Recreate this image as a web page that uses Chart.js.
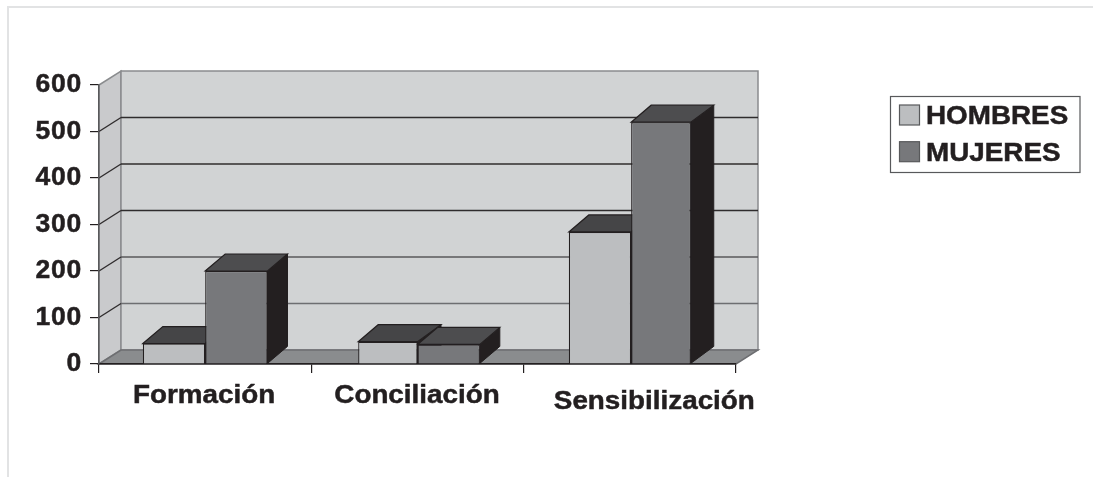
<!DOCTYPE html>
<html>
<head>
<meta charset="utf-8">
<style>
  html, body { margin: 0; padding: 0; background: #fff; overflow: hidden; }
  #frame { position: absolute; left: 7px; top: 6px; right: 0; bottom: 0; border-left: 2px solid #e2e3e4; border-top: 2px solid #e2e3e4; }
  canvas { position: absolute; left: 0; top: 0; }
</style>
<script src="https://cdn.jsdelivr.net/npm/chart.js@4"></script>
</head>
<body>
<div id="frame"></div>
<canvas id="chart" width="1093" height="477"></canvas>
<script>
const categories = ['Formación', 'Conciliación', 'Sensibilización'];
const hombres = [44, 48, 284];
const mujeres = [200, 42, 520];
const yTicks = [0, 100, 200, 300, 400, 500, 600];
const seriesColors = ['#bcbec0', '#77787b'];

// depth of the fake 3d
const wallDx = 22, wallDy = 14;
const barDx = 20, barDy = 17;
const ink = '#231f20';
const labelFont = 'bold 26.5px "Liberation Sans", Arial, sans-serif';

// a few bars in the original are not quite even: [series, category, left, right, extra depth]
const barTweaks = [[0, 1, 3, 0, 3.5], [0, 2, 1.3, 1.3, 0], [1, 2, 1.3, -1.4, 3]];

function poly(ctx, pts, fill, stroke, lw) {
  ctx.beginPath();
  pts.forEach((p, i) => i ? ctx.lineTo(p[0], p[1]) : ctx.moveTo(p[0], p[1]));
  ctx.closePath();
  if (fill) { ctx.fillStyle = fill; ctx.fill(); }
  if (stroke) { ctx.strokeStyle = stroke; ctx.lineWidth = lw || 1; ctx.stroke(); }
}

// the scanned text is a bit wider and heavier than arial
function wideText(ctx, text, x, y, align) {
  ctx.save();
  ctx.font = labelFont;
  ctx.fillStyle = ink;
  ctx.strokeStyle = ink;
  ctx.lineWidth = 0.5;
  ctx.textBaseline = 'alphabetic';
  ctx.textAlign = align;
  ctx.translate(x, y);
  ctx.scale(1.05, 1);
  ctx.fillText(text, 0, 0);
  ctx.strokeText(text, 0, 0);
  ctx.restore();
}

const walls3d = {
  id: 'walls3d',
  afterDatasetsUpdate(chart) {
    chart.getSortedVisibleDatasetMetas().forEach(meta => {
      meta.data.forEach(bar => { bar.extraDepth = 0; });
    });
    barTweaks.forEach(([d, i, dl, dr, extra]) => {
      const bar = chart.getDatasetMeta(d).data[i];
      const l = bar.x - bar.width / 2 + dl, r = bar.x + bar.width / 2 + dr;
      bar.x = (l + r) / 2;
      bar.width = r - l;
      bar.extraDepth = extra;
    });
  },
  beforeDraw(chart) {
    const { ctx, chartArea: a, scales: { y } } = chart;
    ctx.save();
    // left wall, back wall, floor
    poly(ctx, [[a.left, a.top], [a.left + wallDx, a.top - wallDy], [a.left + wallDx, a.bottom - wallDy], [a.left, a.bottom]], '#c9cacc', '#8a8c8e', 1.5);
    poly(ctx, [[a.left + wallDx, a.top - wallDy], [a.right + wallDx, a.top - wallDy], [a.right + wallDx, a.bottom - wallDy], [a.left + wallDx, a.bottom - wallDy]], '#d1d3d4', '#8a8c8e', 1.5);
    poly(ctx, [[a.left, a.bottom], [a.left + wallDx, a.bottom - wallDy], [a.right + wallDx, a.bottom - wallDy], [a.right, a.bottom]], '#8a8c8e', '#6d6e71', 1.5);
    // grid lines, they bend along the left wall
    yTicks.slice(1, -1).forEach(v => {
      const py = y.getPixelForValue(v);
      ctx.lineWidth = 1.4;
      ctx.beginPath();
      ctx.moveTo(a.left + wallDx, py - wallDy);
      ctx.lineTo(a.right + wallDx, py - wallDy);
      ctx.strokeStyle = v < 200 ? '#6d6e71' : v < 300 ? '#58595b' : '#2f2c2d';
      ctx.stroke();
      ctx.beginPath();
      ctx.moveTo(a.left, py);
      ctx.lineTo(a.left + wallDx, py - wallDy);
      ctx.strokeStyle = '#2f2c2d';
      ctx.stroke();
    });
    ctx.restore();
    ctx.letterSpacing = '0.8px';
  },
  beforeDatasetsDraw(chart) {
    const { ctx } = chart;
    ctx.letterSpacing = '0px';
    ctx.save();
    // tops and sides go behind the front faces that chart.js draws
    chart.data.datasets.forEach((ds, d) => {
      chart.getDatasetMeta(d).data.forEach(bar => {
        const l = bar.x - bar.width / 2, r = bar.x + bar.width / 2, t = bar.y, b = bar.base;
        const sideDx = barDx + (bar.extraDepth || 0);
        poly(ctx, [[r, t], [r + sideDx, t - barDy], [r + sideDx, b - barDy], [r, b]], ink, ink, 1);
        poly(ctx, [[l, t], [l + barDx, t - barDy], [r + sideDx, t - barDy], [r, t]], d ? '#4d4d4f' : '#454547', ink, 1.2);
      });
    });
    ctx.restore();
  },
  afterDatasetsDraw(chart) {
    const { ctx, scales: { x, y } } = chart;
    // category labels do not sit level in the original
    const offs = [[-1, 39], [-0.5, 39], [24.5, 45]];
    categories.forEach((c, i) => {
      wideText(ctx, c, x.getPixelForValue(i) + offs[i][0], y.bottom + offs[i][1], 'center');
    });
    // legend
    ctx.save();
    ctx.strokeStyle = '#58595b';
    ctx.lineWidth = 1.2;
    ctx.strokeRect(890.5, 96.5, 189.5, 76);
    chart.data.datasets.forEach((ds, d) => {
      const top = 105 + d * 36.7;
      ctx.fillStyle = seriesColors[d];
      ctx.strokeStyle = '#58595b';
      ctx.fillRect(899.5, top, 20, 20);
      ctx.strokeRect(899.5, top, 20, 20);
      wideText(ctx, ds.label, 926, top + 19, 'left');
    });
    ctx.restore();
  }
};

new Chart(document.getElementById('chart'), {
  type: 'bar',
  data: {
    labels: categories,
    datasets: [
      { label: 'HOMBRES', data: hombres, backgroundColor: seriesColors[0], borderColor: ink, borderWidth: 1.2 },
      { label: 'MUJERES', data: mujeres, backgroundColor: seriesColors[1], borderColor: ink, borderWidth: 1.2 }
    ]
  },
  options: {
    responsive: false,
    animation: false,
    categoryPercentage: 0.587,
    barPercentage: 1,
    layout: { padding: { left: 0, top: 85, right: 357, bottom: 0 } },
    plugins: { legend: { display: false }, tooltip: { enabled: false } },
    scales: {
      x: {
        grid: { drawOnChartArea: false, color: ink, tickLength: 9, lineWidth: 1.2 },
        border: { color: ink, width: 1.5 },
        ticks: { display: false },
        afterFit(s) { s.height = 113; }
      },
      y: {
        min: 0,
        max: 600,
        grid: { drawOnChartArea: false, color: ink, tickLength: 9, lineWidth: 1.2 },
        border: { color: '#58595b', width: 1.5 },
        afterBuildTicks(s) { s.ticks = yTicks.map(v => ({ value: v })); },
        ticks: {
          color: ink,
          padding: 8,
          textStrokeColor: ink,
          textStrokeWidth: 0.5,
          font: { family: '"Liberation Sans", Arial, sans-serif', size: 26.5, weight: 'bold' }
        },
        afterFit(s) { s.width = 99; }
      }
    }
  },
  plugins: [walls3d]
});
</script>
</body>
</html>
